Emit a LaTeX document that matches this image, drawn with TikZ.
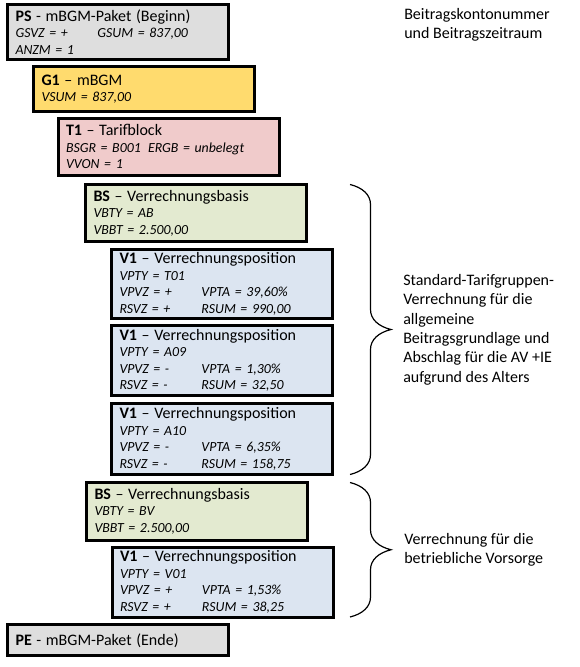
\documentclass[tikz,border=0pt]{standalone}
\usepackage{fontspec}
\setmainfont{Carlito}
\usetikzlibrary{decorations.pathreplacing}

\definecolor{pkgray}{RGB}{222,222,222}
\definecolor{mbgmgold}{RGB}{255,219,110}
\definecolor{tarifrose}{RGB}{240,203,203}
\definecolor{basisgreen}{RGB}{227,234,208}
\definecolor{posblue}{RGB}{220,229,241}

\newcommand{\fld}[2]{\makebox[61.5pt][l]{#1}#2}
\newcommand{\ttl}[3]{{\upshape\fontsize{12}{14}\selectfont\textbf{#1} #2 #3}}

\tikzset{
  pkbox/.style={draw, line width=2.25pt, anchor=north west, outer sep=0pt,
    inner xsep=6pt, inner ysep=1pt, text width=153.75pt, align=left,
    minimum height=#1*0.75pt, font=\fontsize{10.4}{12.4}\selectfont\itshape},
  note/.style={anchor=west, inner sep=0pt, align=left,
    font=\fontsize{12}{14.5}\selectfont},
  brc/.style={decorate, decoration={brace, amplitude=15pt, transform={yscale=2.05}},
    line width=0.9pt}
}

\begin{document}
\begin{tikzpicture}[x=0.75pt, y=-0.75pt]
  \useasboundingbox (0,0) rectangle (579,667);

  % Draw the packet start
  \node[pkbox=55, fill=pkgray] (ps) at (7.5,4.5)
    {\ttl{PS}{-}{mBGM-Paket (Beginn)}\\ \fld{GSVZ = +}{GSUM = 837,00}\\ ANZM = 1};
  \node[pkbox=45, fill=mbgmgold] (g1) at (33.5,66.5)
    {\ttl{G1}{\textendash}{mBGM}\\ VSUM = 837,00};
  \node[pkbox=56.5, fill=tarifrose] (t1) at (58,118.5)
    {\ttl{T1}{\textendash}{Tarifblock}\\ \fld{BSGR = B001}{ERGB = unbelegt}\\ VVON = 1};

  % Draw the first basis with its positions
  \node[pkbox=57, fill=basisgreen] (bs1) at (85.5,184.5)
    {\ttl{BS}{\textendash}{Verrechnungsbasis}\\ VBTY = AB\\ VBBT = 2.500,00};
  \node[pkbox=69, fill=posblue] (v1a) at (111.5,249.5)
    {\ttl{V1}{\textendash}{Verrechnungsposition}\\ VPTY = T01\\
     \fld{VPVZ = +}{VPTA = 39,60\%}\\ \fld{RSVZ = +}{RSUM = 990,00}};
  \node[pkbox=70, fill=posblue] (v1b) at (111.5,325.5)
    {\ttl{V1}{\textendash}{Verrechnungsposition}\\ VPTY = A09\\
     \fld{VPVZ = -}{VPTA = 1,30\%}\\ \fld{RSVZ = -}{RSUM = 32,50}};
  \node[pkbox=71, fill=posblue] (v1c) at (111.5,403.5)
    {\ttl{V1}{\textendash}{Verrechnungsposition}\\ VPTY = A10\\
     \fld{VPVZ = -}{VPTA = 6,35\%}\\ \fld{RSVZ = -}{RSUM = 158,75}};

  % Draw the second basis
  \node[pkbox=57.5, fill=basisgreen] (bs2) at (86.5,482.5)
    {\ttl{BS}{\textendash}{Verrechnungsbasis}\\ VBTY = BV\\ VBBT = 2.500,00};
  \node[pkbox=70, fill=posblue] (v1d) at (112,547)
    {\ttl{V1}{\textendash}{Verrechnungsposition}\\ VPTY = V01\\
     \fld{VPVZ = +}{VPTA = 1,53\%}\\ \fld{RSVZ = +}{RSUM = 38,25}};

  % Draw the packet end
  \node[pkbox=31, fill=pkgray] (pe) at (7.5,624.8)
    {\ttl{PE}{-}{mBGM-Paket (Ende)}};

  % Draw the braces and notes
  \coordinate (brx) at (350,0);
  \draw[brc] (bs1.north -| brx) -- (v1c.south -| brx);
  \draw[brc] (bs2.north -| brx) -- (v1d.south -| brx);

  \node[note] (kto) at (404,25) {Beitragskontonummer\\und Beitragszeitraum};
  \node[note] (stdv) at (403,329.5) {Standard-Tarifgruppen-\\Verrechnung für die\\
    allgemeine\\Beitragsgrundlage und\\Abschlag für die AV +IE\\aufgrund des Alters};
  \node[note] (bav) at (404,550) {Verrechnung für die\\betriebliche Vorsorge};
\end{tikzpicture}
\end{document}
